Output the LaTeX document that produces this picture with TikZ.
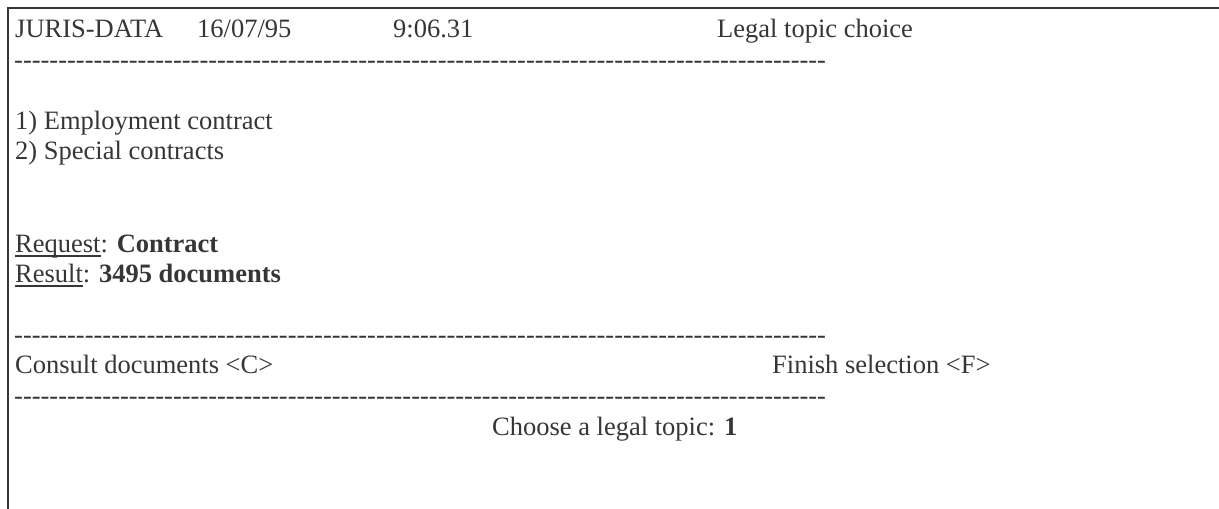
\documentclass[tikz,border=0pt]{standalone}
\usepackage{fontspec}
\setmainfont{Liberation Serif}
\definecolor{ink}{HTML}{363636}
% a full-width row of hyphens, kerned apart so no dash ligature forms
\newcommand\hyphenrow{\foreach\k in {1,...,92}{-\kern0pt}}
% underline that sits just under the baseline, through descenders
\newcommand\uline[1]{\setbox0\hbox{#1}\rlap{\vrule height -2.8pt depth 4.6pt width \wd0}\box0}
\begin{document}
\begin{tikzpicture}[x=1pt,y=-1pt,
  screen/.style={inner sep=0pt, anchor=base west, text=ink,
    font=\fontsize{26.5}{30.6}\selectfont},
  frame/.style={draw=ink, line width=2pt}]
\useasboundingbox (0,0) rectangle (1219,509);
% screen frame: top and left edges
\draw[frame] (8,509) -- (8,8) -- (1219,8);
% header
\node[screen] (sys)   at (15,37)  {JURIS-DATA};
\node[screen] (date)  at (197,37) {16/07/95};
\node[screen] (time)  at (393,37) {9:06.31};
\node[screen] (title) at (717,37) {Legal topic choice};
\node[screen] (rule1) at (14,68)  {\hyphenrow};
% menu
\node[screen] (opt1)  at (15,129) {1) Employment contract};
\node[screen] (opt2)  at (15,159) {2) Special contracts};
% query status
\node[screen] (req)   at (15,252) {\uline{Request}: \textbf{Contract}};
\node[screen] (res)   at (15,282) {\uline{Result}: \textbf{3495 documents}};
\node[screen] (rule2) at (14,343) {\hyphenrow};
% function keys
\node[screen] (consult) at (15,373)  {Consult documents <C>};
\node[screen] (finish)  at (772,373) {Finish selection <F>};
\node[screen] (rule3)   at (14,404)  {\hyphenrow};
% prompt
\node[screen] (choose)  at (492,435) {Choose a legal topic: \textbf{1}};
\end{tikzpicture}
\end{document}
